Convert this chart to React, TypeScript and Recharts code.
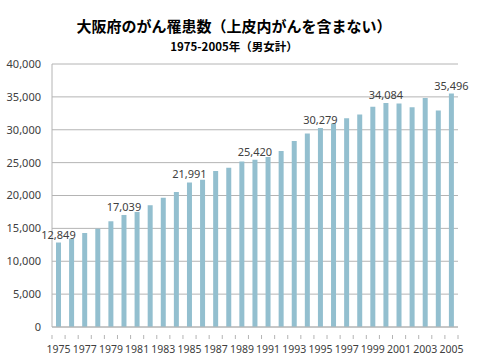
// 大阪府のがん罹患数 — 1975-2005年の棒グラフ（Recharts BarChart）
import { BarChart, Bar, XAxis, YAxis, CartesianGrid, LabelList } from 'recharts'

const years = [
  '1975', '1976', '1977', '1978', '1979', '1980', '1981', '1982', '1983', '1984',
  '1985', '1986', '1987', '1988', '1989', '1990', '1991', '1992', '1993', '1994',
  '1995', '1996', '1997', '1998', '1999', '2000', '2001', '2002', '2003', '2004', '2005',
]

const cases = [
  12849, 13430, 14300, 14950, 16080, 17039, 17500, 18520, 19650, 20540,
  21991, 22400, 23720, 24230, 25190, 25420, 25860, 26780, 28300, 29420,
  30279, 30950, 31760, 32320, 33500, 34084, 34000, 33430, 34810, 32930, 35496,
]

const labeledYears = ['1975', '1980', '1985', '1990', '1995', '2000', '2005']

const yTicks = [0, 5000, 10000, 15000, 20000, 25000, 30000, 35000, 40000]

const chartData = years.map((year, i) => ({ year, cases: cases[i] }))

const fmt = (v: number) => v.toLocaleString('en-US')

const FONT = '"Noto Sans", "Open Sans", sans-serif'
const GRID = '#b4b4b4'
const TEXT = '#404040'

function YearTick({ x, y, index, payload }: any) {
  const half = 13.1 / 2
  const isLast = index === years.length - 1
  return (
    <g>
      <line x1={x - half} y1={y} x2={x - half} y2={y + 4} stroke={GRID} />
      {isLast && <line x1={x + half} y1={y} x2={x + half} y2={y + 4} stroke={GRID} />}
      {index % 2 === 0 && (
        <text x={x} y={y + 18} textAnchor="middle" fontSize={10.5} fontFamily={FONT} fill={TEXT}>
          {payload.value}
        </text>
      )}
    </g>
  )
}

function ValueLabel({ x, y, width, value, index }: any) {
  if (!labeledYears.includes(years[index])) return null
  return (
    <text x={x + width / 2} y={y - 4} textAnchor="middle" fontSize={11} fontFamily={FONT} fill={TEXT}>
      {fmt(value)}
    </text>
  )
}

export default function App() {
  return (
    <div style={{ position: 'absolute', left: 0, top: 0, width: 480, height: 360, background: '#fff' }}>
      <div
        style={{
          position: 'absolute', left: 0, top: 15, width: 468, textAlign: 'center',
          fontFamily: '"Noto Sans CJK JP", sans-serif', fontWeight: 700, fontSize: 15, color: '#000',
        }}
      >
        大阪府のがん罹患数（上皮内がんを含まない）
      </div>
      <div
        style={{
          position: 'absolute', left: 0, top: 38, width: 468, textAlign: 'center',
          fontFamily: '"Noto Sans CJK JP", sans-serif', fontWeight: 700, fontSize: 11.5, color: '#000',
        }}
      >
        1975-2005年（男女計）
      </div>
      <div style={{ position: 'absolute', left: 0, top: 0 }}>
        <BarChart width={480} height={360} data={chartData} margin={{ top: 64, right: 22, left: 0, bottom: 0 }} barCategoryGap={0}>
          <CartesianGrid vertical={false} stroke={GRID} />
          <XAxis
            dataKey="year"
            interval={0}
            tickLine={false}
            axisLine={{ stroke: GRID }}
            tick={<YearTick />}
            height={33}
          />
          <YAxis
            domain={[0, 40000]}
            ticks={yTicks}
            width={52}
            tickFormatter={fmt}
            axisLine={{ stroke: GRID }}
            tickLine={false}
            tickMargin={5}
            tick={{ fontSize: 11, fontFamily: FONT, fill: TEXT }}
          />
          <Bar dataKey="cases" fill="#93bfcf" barSize={5} isAnimationActive={false}>
            <LabelList dataKey="cases" content={<ValueLabel />} />
          </Bar>
        </BarChart>
      </div>
    </div>
  )
}
